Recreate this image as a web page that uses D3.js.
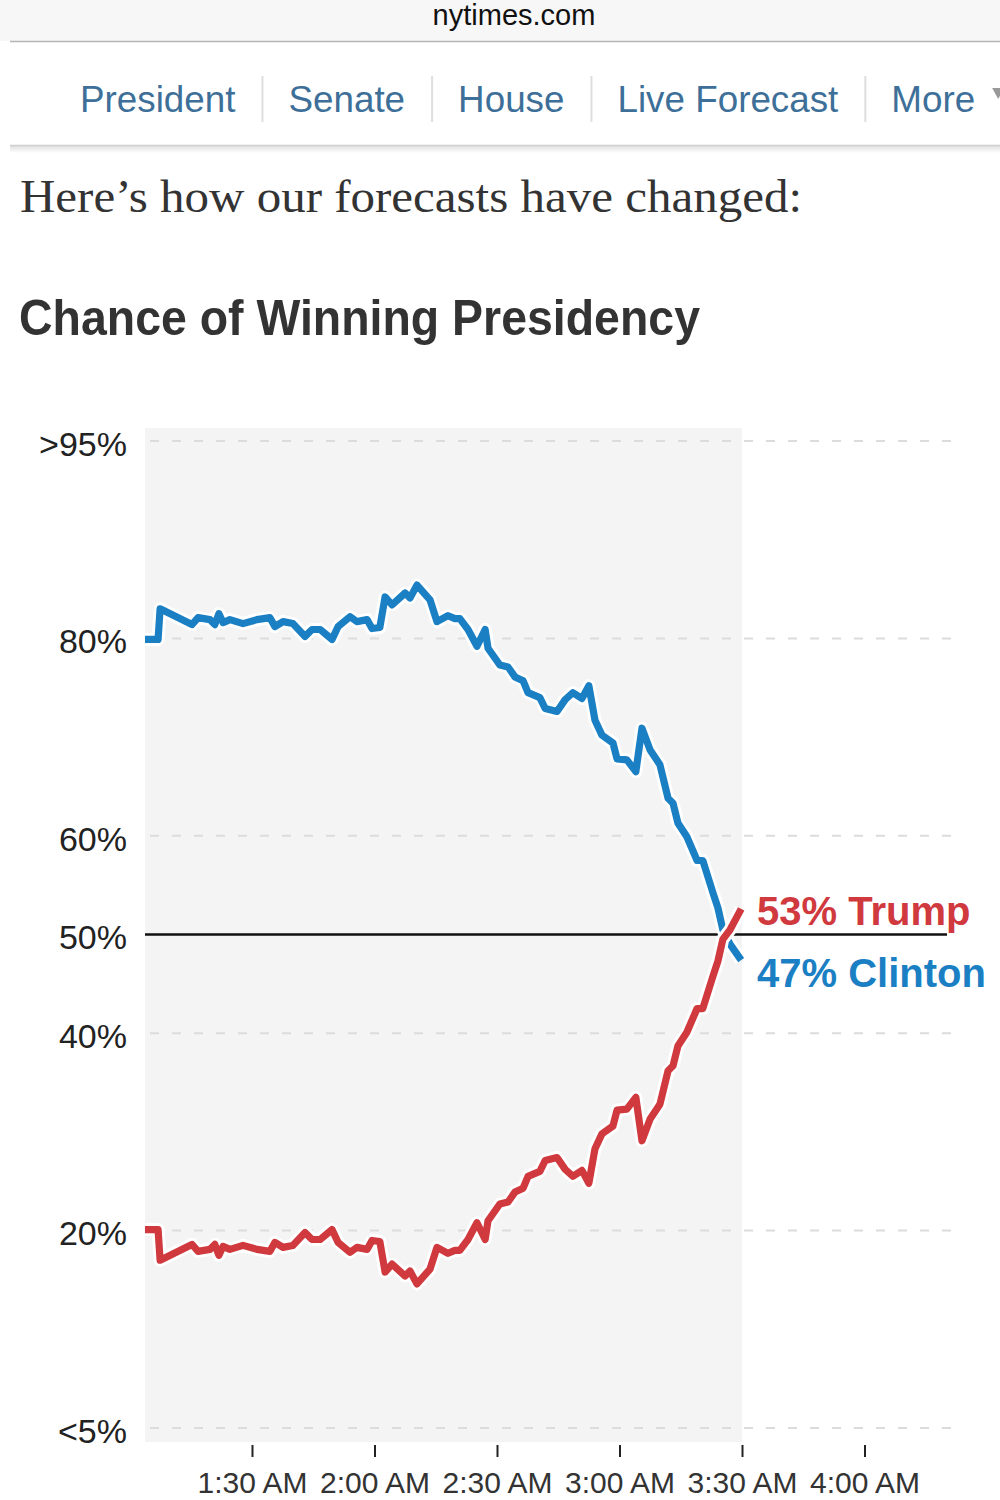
<!DOCTYPE html>
<html><head><meta charset="utf-8">
<script src="https://cdn.jsdelivr.net/npm/d3@7"></script>
<style>body{margin:0;background:#fff} svg{display:block}</style>
</head><body>
<svg id="c" width="1000" height="1500"></svg>
<script>
// ---------- data ----------
const siteName = "nytimes.com";
const navItems = ["President", "Senate", "House", "Live Forecast", "More"];
const introText = "Here\u2019s how our forecasts have changed:";
const chartTitle = "Chance of Winning Presidency";

// minutes after 1:00 AM (election night)
const minutesAfter1am = [3.8, 7.0, 7.5, 15.3, 16.8, 19.7, 20.9, 21.9, 22.9, 24.6,
  27.8, 31.2, 34.4, 35.6, 37.6, 40.0, 43.0, 44.7, 46.7, 49.6,
  51.1, 54.0, 55.7, 58.2, 59.4, 61.3, 62.6, 64.3, 67.5, 68.7,
  70.4, 73.6, 75.3, 78.0, 79.7, 80.9, 82.9, 85.1, 87.1, 87.8,
  90.7, 92.7, 94.4, 96.4, 97.6, 100.5, 101.8, 104.7, 106.7, 108.6,
  110.8, 112.5, 114.0, 115.7, 118.4, 119.4, 121.8, 124.0, 125.5, 127.5,
  129.9, 131.9, 133.1, 134.3, 136.5, 139.0, 140.4, 142.9, 144.1, 145.3,
  147.1, 149.8];
const clinton = [79.9, 79.9, 83.0, 81.4, 82.1, 81.9, 81.4, 82.5, 81.6, 81.9,
  81.5, 81.9, 82.1, 81.2, 81.7, 81.5, 80.2, 80.9, 80.9, 79.9,
  81.2, 82.2, 81.7, 81.9, 81.0, 81.1, 84.2, 83.4, 84.6, 84.1,
  85.4, 83.9, 81.7, 82.3, 82.0, 82.0, 80.9, 79.2, 80.9, 79.0,
  77.3, 77.1, 76.1, 75.7, 74.5, 74.0, 72.9, 72.6, 73.8, 74.5,
  73.9, 75.2, 71.7, 70.2, 69.4, 67.8, 67.7, 66.5, 70.9, 68.7,
  67.2, 63.8, 63.3, 61.3, 59.9, 57.5, 57.5, 54.2, 52.7, 50.5,
  49.0, 47.4];
const trump = [20.1, 20.1, 17.0, 18.6, 17.9, 18.1, 18.6, 17.5, 18.4, 18.1,
  18.5, 18.1, 17.9, 18.8, 18.3, 18.5, 19.8, 19.1, 19.1, 20.1,
  18.8, 17.8, 18.3, 18.1, 19.0, 18.9, 15.8, 16.6, 15.4, 15.9,
  14.6, 16.1, 18.3, 17.7, 18.0, 18.0, 19.1, 20.8, 19.1, 21.0,
  22.7, 22.9, 23.9, 24.3, 25.5, 26.0, 27.1, 27.4, 26.2, 25.5,
  26.1, 24.8, 28.3, 29.8, 30.6, 32.2, 32.3, 33.5, 29.1, 31.3,
  32.8, 36.2, 36.7, 38.7, 40.1, 42.5, 42.5, 45.8, 47.3, 49.5,
  50.5, 52.6];

const yTickValues = [0, 20, 40, 50, 60, 80, 100];
const yTickLabels = ["<5%", "20%", "40%", "50%", "60%", "80%", ">95%"];
const xTickMinutes = [30, 60, 90, 120, 150, 180];   // 1:30 ... 4:00 AM
const xDomainMinutes = [3.8, 202.65];
const nowMinutes = 150;                              // 3:30 AM

// ---------- setup ----------
const svg = d3.select("#c");
const base = new Date(2016, 10, 9, 1, 0, 0);
const toDate = m => new Date(base.getTime() + m * 60000);
const BLUE = "#1b7fc4", RED = "#d0393e";
const SANS = "'Liberation Sans', Arial, Helvetica, sans-serif";

// ---------- header ----------
svg.append("rect").attr("x", 0).attr("y", 0).attr("width", 1000).attr("height", 41).attr("fill", "#f8f7f7");
svg.append("text").attr("x", 514).attr("y", 25).attr("text-anchor", "middle")
  .attr("font-family", SANS).attr("font-size", 29).attr("fill", "#111").text(siteName);
svg.append("line").attr("x1", 10).attr("x2", 1000).attr("y1", 41.5).attr("y2", 41.5)
  .attr("stroke", "#b5b5b5").attr("stroke-width", 1.5);

const defs = svg.append("defs");
const sh = defs.append("linearGradient").attr("id", "sh").attr("x1", 0).attr("y1", 0).attr("x2", 0).attr("y2", 1);
sh.append("stop").attr("offset", 0).attr("stop-color", "#000").attr("stop-opacity", 0.12);
sh.append("stop").attr("offset", 1).attr("stop-color", "#000").attr("stop-opacity", 0);
svg.append("rect").attr("x", 10).attr("y", 146).attr("width", 990).attr("height", 7).attr("fill", "url(#sh)");
svg.append("line").attr("x1", 10).attr("x2", 1000).attr("y1", 145.5).attr("y2", 145.5)
  .attr("stroke", "#cfcfcf").attr("stroke-width", 1.5);

let nx = 80;
navItems.forEach((name, i) => {
  const t = svg.append("text").attr("x", nx).attr("y", 112)
    .attr("font-family", SANS).attr("font-size", 36.8).attr("fill", "#3d6f98").text(name);
  const w = t.node().getComputedTextLength();
  if (i < navItems.length - 1) {
    svg.append("line").attr("x1", nx + w + 27).attr("x2", nx + w + 27).attr("y1", 76).attr("y2", 122)
      .attr("stroke", "#dedede").attr("stroke-width", 2);
  } else {
    svg.append("path").attr("d", `M${nx + w + 17},88 l12,0 l-6,11 z`).attr("fill", "#999");
  }
  nx += w + 53;
});

svg.append("text").attr("x", 20).attr("y", 212)
  .attr("font-family", "'Liberation Serif', 'Times New Roman', serif").attr("font-size", 46)
  .attr("fill", "#333").attr("textLength", 782).attr("lengthAdjust", "spacingAndGlyphs").text(introText);

svg.append("text").attr("x", 19).attr("y", 335)
  .attr("font-family", SANS).attr("font-weight", "bold").attr("font-size", 50)
  .attr("fill", "#333").attr("textLength", 681).attr("lengthAdjust", "spacingAndGlyphs").text(chartTitle);

// ---------- chart ----------
const x = d3.scaleTime().domain(xDomainMinutes.map(toDate)).range([145, 957]);
const y = d3.scaleLinear().domain([0, 100]).range([1428, 441]);

svg.append("rect").attr("x", x.range()[0]).attr("y", 428)
  .attr("width", x(toDate(nowMinutes)) - x.range()[0]).attr("height", 1014).attr("fill", "#f4f4f4");

// gridlines
svg.append("g").selectAll("line").data(yTickValues.filter(v => v !== 50)).join("line")
  .attr("x1", 150).attr("x2", 957).attr("y1", d => y(d)).attr("y2", d => y(d))
  .attr("stroke", "#dcdcdc").attr("stroke-width", 2).attr("stroke-dasharray", "9,13");

// 50% line
svg.append("line").attr("x1", 145).attr("x2", 947).attr("y1", y(50)).attr("y2", y(50))
  .attr("stroke", "#111").attr("stroke-width", 2.5);

// y axis
const yAxis = svg.append("g").attr("transform", "translate(145,0)")
  .call(d3.axisLeft(y).tickValues(yTickValues).tickFormat((d, i) => yTickLabels[i]).tickSize(0).tickPadding(18));
yAxis.select(".domain").remove();
yAxis.selectAll("text").attr("font-family", SANS).attr("font-size", 34).attr("fill", "#222").attr("dy", "0.42em");

// x axis
const xAxis = svg.append("g").attr("transform", "translate(0,1445)")
  .call(d3.axisBottom(x).tickValues(xTickMinutes.map(toDate)).tickFormat(d3.timeFormat("%-I:%M %p")).tickSize(12).tickPadding(15));
xAxis.select(".domain").remove();
xAxis.selectAll(".tick line").attr("stroke", "#222").attr("stroke-width", 2);
xAxis.selectAll("text").attr("font-family", SANS).attr("font-size", 30).attr("fill", "#333");

// lines
const series = [
  { name: "Clinton", color: BLUE, values: clinton },
  { name: "Trump", color: RED, values: trump }
];
const line = d3.line().x(d => x(d.t)).y(d => y(d.v));
series.forEach(s => {
  const pts = minutesAfter1am.map((m, i) => ({ t: toDate(m), v: s.values[i] }));
  svg.append("path").attr("d", line(pts)).attr("fill", "none").attr("stroke", "#fff")
    .attr("stroke-width", 13).attr("stroke-linejoin", "round");
  svg.append("path").attr("d", line(pts)).attr("fill", "none").attr("stroke", s.color)
    .attr("stroke-width", 7.2).attr("stroke-linejoin", "round");
});

// end labels
svg.append("text").attr("x", 757).attr("y", 925).attr("font-family", SANS).attr("font-weight", "bold")
  .attr("font-size", 40).attr("fill", RED).text(`${Math.round(trump[trump.length - 1])}% Trump`);
svg.append("text").attr("x", 757).attr("y", 987).attr("font-family", SANS).attr("font-weight", "bold")
  .attr("font-size", 40).attr("fill", BLUE).text(`${Math.round(clinton[clinton.length - 1])}% Clinton`);
</script>
</body></html>
